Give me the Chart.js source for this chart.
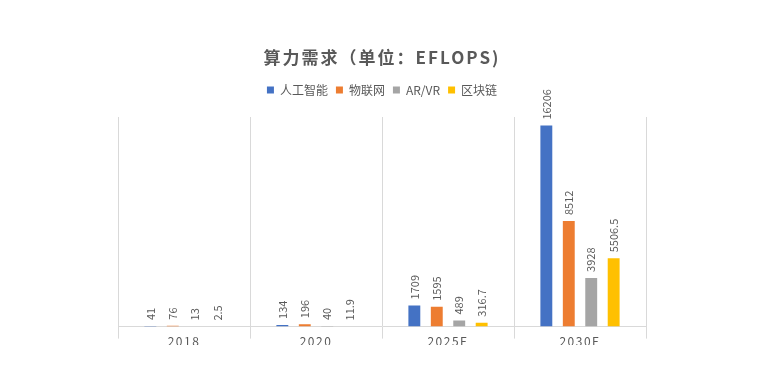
<!DOCTYPE html>
<html>
<head>
<meta charset="utf-8">
<script src="https://cdn.jsdelivr.net/npm/chart.js@4/dist/chart.umd.min.js"></script>
<style>
  html, body { margin: 0; padding: 0; background: #fff; }
  #wrap { width: 783px; height: 385px; }
</style>
</head>
<body>
<div id="wrap"><canvas id="demandChart" width="783" height="385"></canvas></div>
<script>
const categories = ["2018", "2020", "2025E", "2030E"];
const seriesNames = ["人工智能", "物联网", "AR/VR", "区块链"];
const aiValues = [41, 134, 1709, 16206];
const iotValues = [76, 196, 1595, 8512];
const arvrValues = [13, 40, 489, 3928];
const chainValues = [2.5, 11.9, 316.7, 5506.5];
const seriesColors = ["#4472C4", "#ED7D31", "#A5A5A5", "#FFC000"];

const titleText = "算力需求（单位：EFLOPS)";
const textColor = "#595959";
const fontFamily = "'Noto Sans CJK SC', 'Noto Sans', sans-serif";

// title with letter spacing, drawn by hand
const titlePlugin = {
    id: "spacedTitle",
    afterDraw(chart) {
        let ctx = chart.ctx;
        ctx.save();
        ctx.font = "bold 17px " + fontFamily;
        ctx.fillStyle = textColor;
        ctx.textAlign = "center";
        ctx.textBaseline = "middle";
        ctx.letterSpacing = "2px";
        ctx.fillText(titleText, 382, 58);
        ctx.restore();
    }
};

// extra space under the legend
const legendGap = {
    id: "legendGap",
    beforeInit(chart) {
        const fit = chart.legend.fit;
        chart.legend.fit = function () {
            fit.call(this);
            this.height += 11;
        };
    }
};

// spaced out x tick labels
const spacedTicks = {
    id: "spacedTicks",
    beforeDraw(chart) {
        let xScale = chart.scales.x;
        if (xScale._spaced) return;
        const drawLabels = xScale.drawLabels;
        xScale.drawLabels = function (area) {
            this.ctx.save();
            this.ctx.letterSpacing = "1.5px";
            drawLabels.call(this, area);
            this.ctx.restore();
        };
        xScale._spaced = true;
    }
};

// rotated value labels above each bar
const valueLabels = {
    id: "valueLabels",
    afterDatasetsDraw(chart) {
        let ctx = chart.ctx;
        ctx.save();
        ctx.font = "11px " + fontFamily;
        ctx.fillStyle = textColor;
        ctx.textAlign = "left";
        ctx.textBaseline = "middle";
        chart.data.datasets.forEach((ds, i) => {
            chart.getDatasetMeta(i).data.forEach((bar, j) => {
                ctx.save();
                ctx.translate(bar.x, bar.y - 6);
                ctx.rotate(-Math.PI / 2);
                ctx.fillText(String(ds.data[j]), 0, 0);
                ctx.restore();
            });
        });
        ctx.restore();
    }
};

const valueLists = [aiValues, iotValues, arvrValues, chainValues];

new Chart(document.getElementById("demandChart"), {
    type: "bar",
    data: {
        labels: categories,
        datasets: seriesNames.map((name, i) => ({
            label: name,
            data: valueLists[i],
            backgroundColor: seriesColors[i],
            borderWidth: 0,
            categoryPercentage: 0.68,
            barPercentage: 0.53
        }))
    },
    options: {
        responsive: false,
        animation: false,
        layout: {
            padding: { top: 76, left: 118, right: 137, bottom: 40 }
        },
        plugins: {
            title: { display: false },
            tooltip: { enabled: false },
            legend: {
                position: "top",
                labels: {
                    boxWidth: 7,
                    boxHeight: 7,
                    padding: 8,
                    color: textColor,
                    font: { family: fontFamily, size: 12 }
                }
            }
        },
        scales: {
            x: {
                grid: {
                    color: "#D9D9D9",
                    offset: true,
                    tickLength: 12
                },
                border: { color: "#D9D9D9" },
                ticks: {
                    color: textColor,
                    padding: -4,
                    font: { family: fontFamily, size: 12 }
                }
            },
            y: {
                display: false,
                min: 0,
                max: 16900
            }
        }
    },
    plugins: [titlePlugin, legendGap, spacedTicks, valueLabels]
});
</script>
</body>
</html>
